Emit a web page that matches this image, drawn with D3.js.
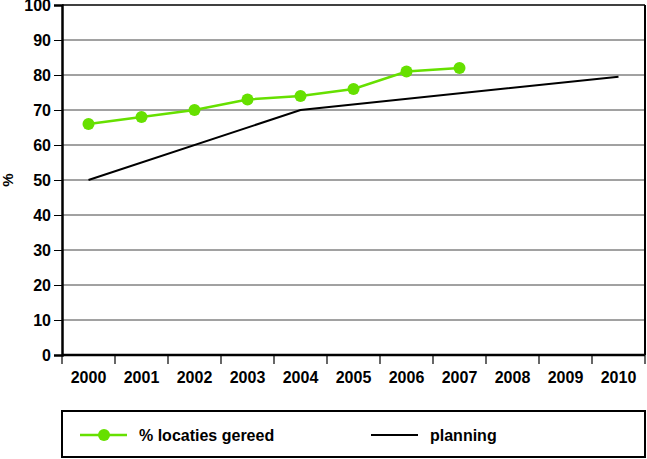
<!DOCTYPE html>
<html><head><meta charset="utf-8">
<script src="https://cdn.jsdelivr.net/npm/d3@7"></script>
<style>body{margin:0;background:#fff}svg{display:block}text{font-family:"Liberation Sans",Arial,sans-serif}</style>
</head><body><svg id="c" width="647" height="459"></svg>
<script>
const years = [2000,2001,2002,2003,2004,2005,2006,2007,2008,2009,2010];
const actualYears = [2000,2001,2002,2003,2004,2005,2006,2007];
const actualValues = [66,68,70,73,74,76,81,82];
const planningYears = [2000,2004,2010];
const planningValues = [50,70,79.5];
const yTicks = [0,10,20,30,40,50,60,70,80,90,100];
const seriesNames = ["% locaties gereed","planning"];

const svg = d3.select("#c");
const L=62,R=645,T=5,B=355;
const x = d3.scaleBand().domain(years).range([L,R]);
const y = d3.scaleLinear().domain([0,100]).range([B,T]);
const green = "#66e000";
const FW = "bold", FS = 16;

// gridlines
svg.append("g").selectAll("line").data(yTicks.filter(d=>d>0)).join("line")
  .attr("x1",L).attr("x2",R).attr("y1",d=>y(d)).attr("y2",d=>y(d))
  .attr("stroke",d=>d===100?"#000":"#444").attr("stroke-width",d=>d===100?1.5:1);
// right border
svg.append("line").attr("x1",R).attr("x2",R).attr("y1",T).attr("y2",B).attr("stroke","#000").attr("stroke-width",2);

// y axis
const ya = svg.append("g").attr("transform",`translate(${L},0)`)
  .call(d3.axisLeft(y).tickValues(yTicks).tickSize(8).tickPadding(3));
ya.select(".domain").attr("stroke-width",2.5);
ya.selectAll("text").attr("font-size",FS).attr("font-weight",FW).attr("fill","#000").attr("dy","0.36em");

// x axis
const xa = svg.append("g").attr("transform",`translate(0,${B})`)
  .call(d3.axisBottom(x).tickSize(0).tickPadding(17).tickFormat(d3.format("d")));
xa.select(".domain").attr("stroke-width",2.5).attr("d",`M${L},0H${R}`);
xa.selectAll("text").attr("font-size",FS).attr("font-weight",FW).attr("fill","#000");
svg.append("g").selectAll("line").data(years.concat([null])).join("line")
  .attr("x1",(d,i)=>L+i*x.step()).attr("x2",(d,i)=>L+i*x.step())
  .attr("y1",B).attr("y2",B+9).attr("stroke","#000").attr("stroke-width",1.2);

svg.append("text").attr("transform",`translate(13,${y(50)}) rotate(-90)`)
  .attr("text-anchor","middle").attr("font-size",15).attr("font-weight","bold").text("%");

const cx = d=>x(d)+x.bandwidth()/2;
// planning line
svg.append("path").datum(planningYears.map((d,i)=>[d,planningValues[i]]))
  .attr("fill","none").attr("stroke","#000").attr("stroke-width",2)
  .attr("d",d3.line().x(d=>cx(d[0])).y(d=>y(d[1])));
// actual line
const ad = actualYears.map((d,i)=>[d,actualValues[i]]);
svg.append("path").datum(ad).attr("fill","none").attr("stroke",green).attr("stroke-width",2.5)
  .attr("d",d3.line().x(d=>cx(d[0])).y(d=>y(d[1])));
svg.append("g").selectAll("circle").data(ad).join("circle")
  .attr("cx",d=>cx(d[0])).attr("cy",d=>y(d[1])).attr("r",6).attr("fill",green);

// legend
svg.append("rect").attr("x",62).attr("y",411).attr("width",583).attr("height",46)
  .attr("fill","none").attr("stroke","#000").attr("stroke-width",2);
svg.append("line").attr("x1",80).attr("x2",127).attr("y1",435).attr("y2",435).attr("stroke",green).attr("stroke-width",2.5);
svg.append("circle").attr("cx",104).attr("cy",435).attr("r",6).attr("fill",green);
svg.append("text").attr("x",139).attr("y",441).attr("font-size",FS).attr("font-weight",FW).text(seriesNames[0]);
svg.append("line").attr("x1",371).attr("x2",418).attr("y1",435).attr("y2",435).attr("stroke","#000").attr("stroke-width",2);
svg.append("text").attr("x",430).attr("y",441).attr("font-size",FS).attr("font-weight",FW).text(seriesNames[1]);
</script></body></html>
